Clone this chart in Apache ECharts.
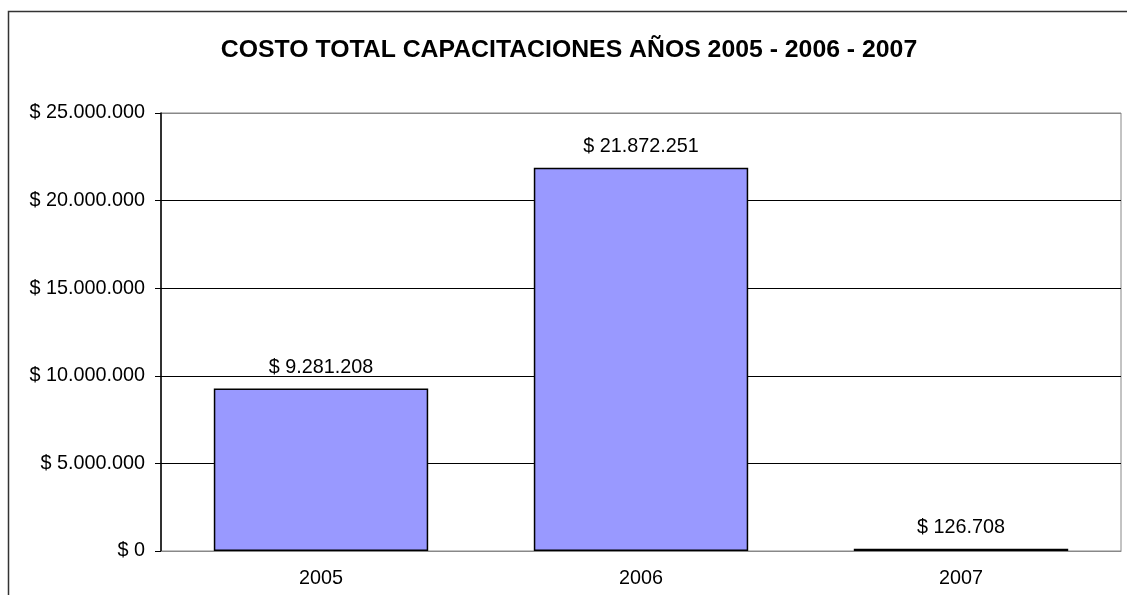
<!DOCTYPE html>
<html>
<head>
<meta charset="utf-8">
<script src="https://cdn.jsdelivr.net/npm/echarts@6/dist/echarts.min.js"></script>
<style>html,body{margin:0;padding:0;background:#fff;}#c{width:1127px;height:595px;}</style>
</head>
<body>
<div id="c"></div>
<script>
const categories = ['2005', '2006', '2007'];
const costs = [9281208, 21872251, 126708];
const titleText = 'COSTO TOTAL CAPACITACIONES AÑOS 2005 - 2006 - 2007';

function money(v) {
  return '$ ' + String(Math.round(v)).replace(/\B(?=(\d{3})+(?!\d))/g, '.');
}

const chart = echarts.init(document.getElementById('c'));
const FONT = '"Liberation Sans", Arial, sans-serif';
chart.setOption({
  animation: false,
  backgroundColor: '#fff',
  title: {
    text: titleText,
    left: 564, top: 33, textAlign: 'center',
    textStyle: { fontFamily: FONT, fontWeight: 'bold', fontSize: 24.8, color: '#000' }
  },
  graphic: [{
    type: 'rect', silent: true,
    shape: { x: 8.5, y: 11.5, width: 1300, height: 800 },
    style: { fill: null, stroke: '#333', lineWidth: 1.5 }
  }],
  grid: {
    left: 161, right: 6, top: 113, bottom: 44,
    show: true, borderColor: '#888', borderWidth: 1, backgroundColor: 'transparent'
  },
  xAxis: {
    type: 'category', data: categories,
    axisLine: { show: true, lineStyle: { color: '#888', width: 1 } },
    axisTick: { show: false },
    axisLabel: { fontFamily: FONT, fontSize: 19.8, color: '#000', margin: 18 }
  },
  yAxis: {
    type: 'value', min: 0, max: 25000000, interval: 5000000,
    axisLine: { show: true, lineStyle: { color: '#000', width: 1.5 } },
    axisTick: { show: true, length: 6, lineStyle: { color: '#000' } },
    axisLabel: { fontFamily: FONT, fontSize: 19.8, color: '#000', margin: 16, formatter: money },
    splitLine: { show: true, lineStyle: { color: ['#888', '#000', '#000', '#000', '#000', '#888'], width: 1 } }
  },
  series: [{
    type: 'bar', data: costs, barWidth: '67%',
    itemStyle: { color: '#9999FF', borderColor: '#000', borderWidth: 1.5 },
    label: {
      show: true, position: 'top', distance: 11,
      fontFamily: FONT, fontSize: 19.8, color: '#000',
      formatter: p => money(p.value)
    }
  }]
});
</script>
</body>
</html>
